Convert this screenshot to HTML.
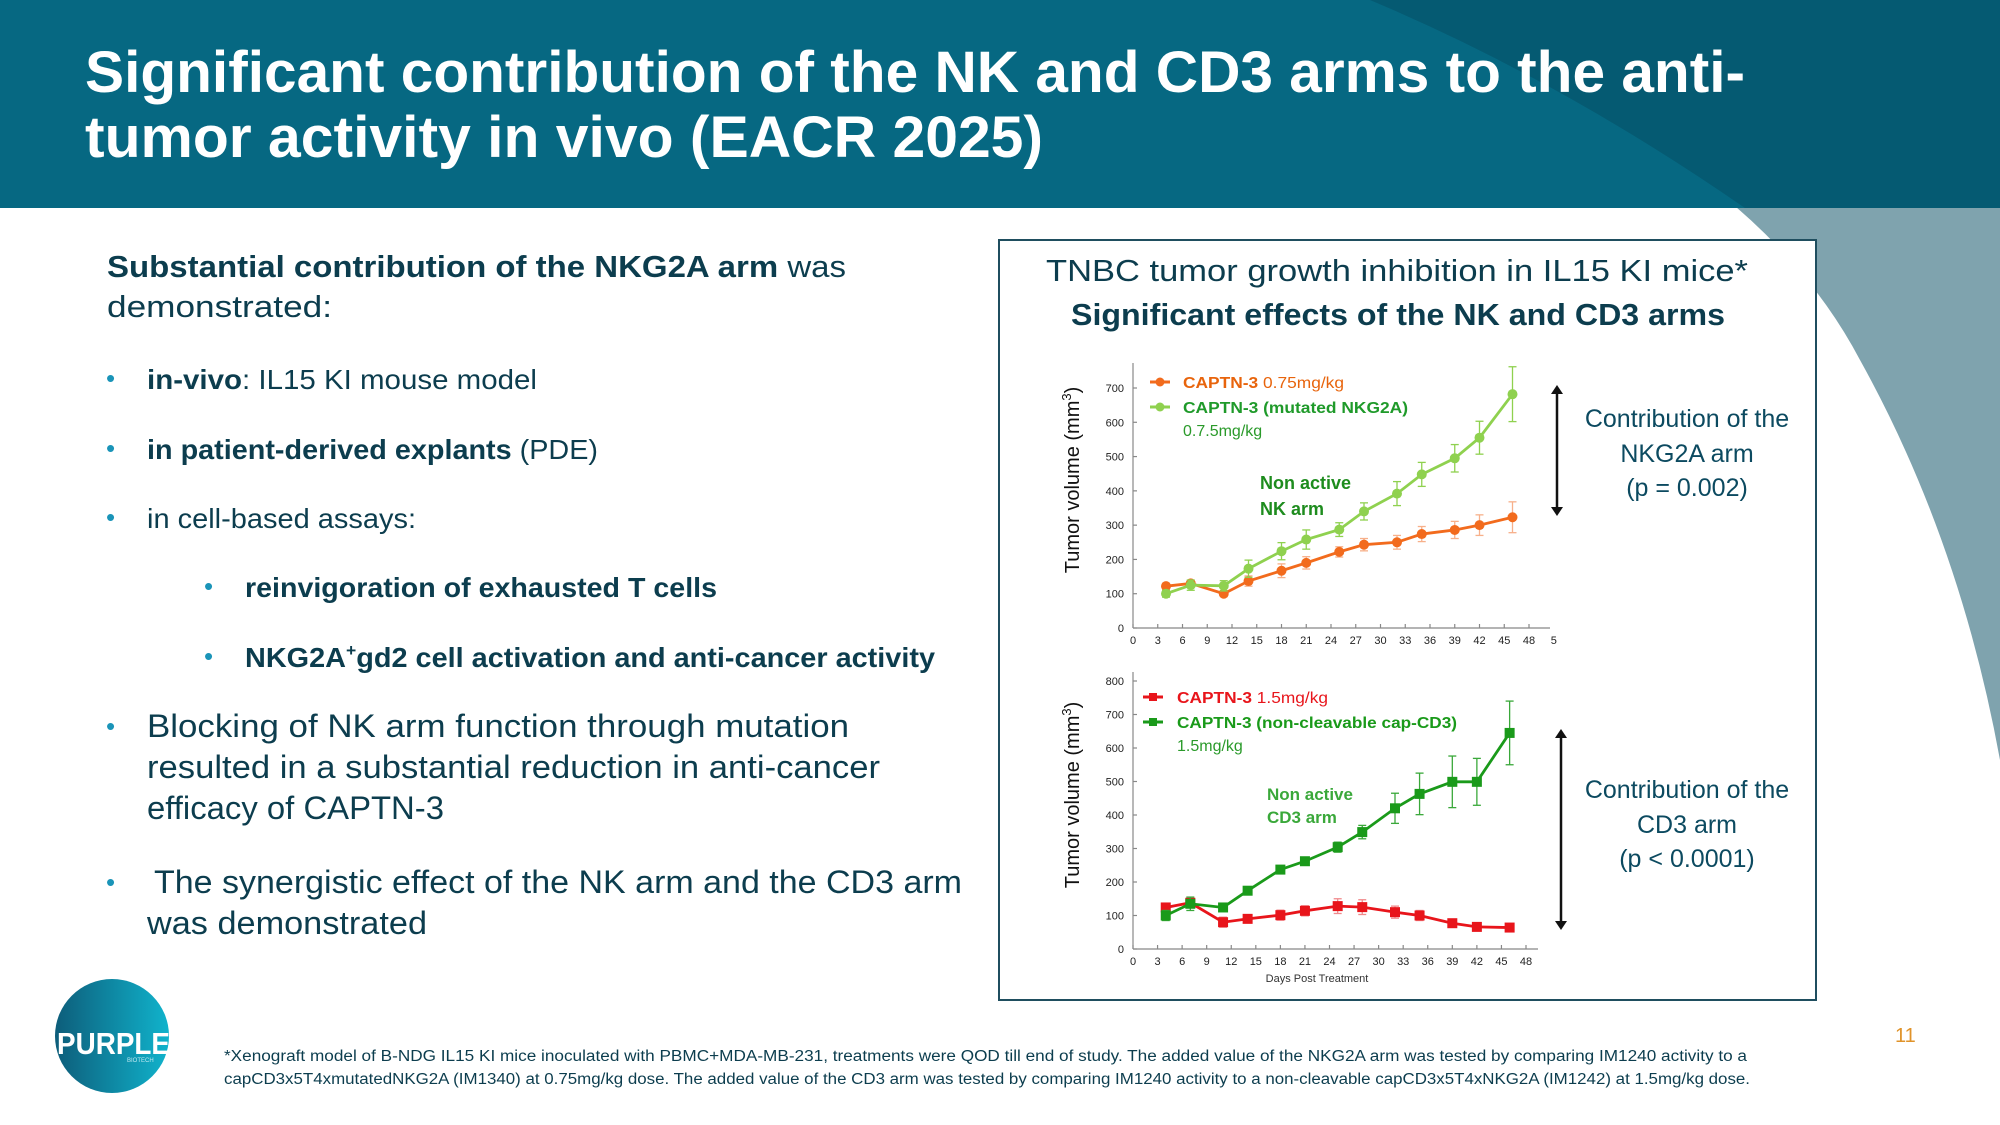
<!DOCTYPE html>
<html><head><meta charset="utf-8"><style>
html,body{margin:0;padding:0;background:#fff}
svg{display:block}
text{font-family:"Liberation Sans",sans-serif}
</style></head><body>
<svg id="slide" width="2000" height="1125" viewBox="0 0 2000 1125" xmlns="http://www.w3.org/2000/svg">
<defs>
<linearGradient id="logoG" x1="0" y1="0" x2="1" y2="0"><stop offset="0" stop-color="#0d5d7a"/><stop offset="1" stop-color="#10b3cc"/></linearGradient>
</defs>
<rect x="0" y="0" width="2000" height="1125" fill="#fff"/>
<path d="M1480 58 Q1760 170 1860 360 Q1960 540 2000 760 L2000 0 Z" fill="#7fa3ae"/>
<rect x="0" y="0" width="2000" height="208" fill="#066882"/>
<path d="M1370 0 Q1560 80 1745 208 L2000 208 L2000 0 Z" fill="#055a72"/>
<text x="85" y="92" font-size="58" font-weight="bold" fill="#fff" textLength="1660" lengthAdjust="spacingAndGlyphs">Significant contribution of the NK and CD3 arms to the anti-</text>
<text x="85" y="157" font-size="58" font-weight="bold" fill="#fff" textLength="958" lengthAdjust="spacingAndGlyphs">tumor activity in vivo (EACR 2025)</text>

<g fill="#0c3d4e">
<text x="107" y="277" font-size="31" textLength="739" lengthAdjust="spacingAndGlyphs"><tspan font-weight="bold">Substantial contribution of  the NKG2A arm</tspan> was</text>
<text x="107" y="317" font-size="31" textLength="225" lengthAdjust="spacingAndGlyphs">demonstrated:</text>
<g fill="#1a94b8" font-size="26"><text x="106" y="387">•</text><text x="106" y="457">•</text><text x="106" y="526">•</text><text x="204" y="595">•</text><text x="204" y="665">•</text><text x="106" y="735">•</text><text x="106" y="891">•</text></g>
<text x="147" y="389" font-size="28" textLength="390" lengthAdjust="spacingAndGlyphs"><tspan font-weight="bold">in-vivo</tspan>: IL15 KI mouse model</text>
<text x="147" y="459" font-size="28" textLength="451" lengthAdjust="spacingAndGlyphs"><tspan font-weight="bold">in patient-derived explants</tspan> (PDE)</text>
<text x="147" y="528" font-size="28" textLength="269" lengthAdjust="spacingAndGlyphs">in cell-based assays:</text>
<text x="245" y="597" font-size="28" font-weight="bold" textLength="472" lengthAdjust="spacingAndGlyphs">reinvigoration of exhausted T cells</text>
<text x="245" y="667" font-size="28" font-weight="bold" textLength="690" lengthAdjust="spacingAndGlyphs">NKG2A<tspan font-size="17" dy="-11">+</tspan><tspan dy="11">gd2 cell activation and anti-cancer activity</tspan></text>
<text x="147" y="737" font-size="32" textLength="702" lengthAdjust="spacingAndGlyphs">Blocking of NK arm function through mutation</text>
<text x="147" y="778" font-size="32" textLength="733" lengthAdjust="spacingAndGlyphs">resulted in a substantial reduction in anti-cancer</text>
<text x="147" y="819" font-size="32" textLength="297" lengthAdjust="spacingAndGlyphs">efficacy of CAPTN-3</text>
<text x="154" y="893" font-size="32" textLength="808" lengthAdjust="spacingAndGlyphs">The synergistic effect of the NK arm and the CD3 arm</text>
<text x="147" y="934" font-size="32" textLength="280" lengthAdjust="spacingAndGlyphs">was demonstrated</text>
</g>

<rect x="999" y="240" width="817" height="760" fill="#fff" stroke="#1f4e5f" stroke-width="2"/>
<text x="1046" y="281" font-size="31" fill="#0c3d4e" textLength="702" lengthAdjust="spacingAndGlyphs">TNBC tumor growth inhibition in IL15 KI mice*</text>
<text x="1071" y="325" font-size="31" font-weight="bold" fill="#0c3d4e" textLength="654" lengthAdjust="spacingAndGlyphs">Significant effects of the NK and CD3 arms</text>

<g fill="#0c4a60" font-size="25" text-anchor="middle">
<text x="1687" y="427">Contribution of the</text><text x="1687" y="462">NKG2A arm</text><text x="1687" y="496">(p = 0.002)</text></g>
<g fill="#0c4a60" font-size="25" text-anchor="middle">
<text x="1687" y="798">Contribution of the</text><text x="1687" y="833">CD3 arm</text><text x="1687" y="867">(p &lt; 0.0001)</text></g>
<g stroke="#111" stroke-width="2.5" fill="#111">
<line x1="1557" y1="392" x2="1557" y2="509"/><path d="M1551 394 L1557 385 L1563 394Z" stroke="none"/><path d="M1551 507 L1557 516 L1563 507Z" stroke="none"/></g>
<g stroke="#111" stroke-width="2.5" fill="#111">
<line x1="1561" y1="736" x2="1561" y2="923"/><path d="M1555 738 L1561 729 L1567 738Z" stroke="none"/><path d="M1555 921 L1561 930 L1567 921Z" stroke="none"/></g>

<g id="chart1"></g>
<g id="chart2"></g>

<g>
<circle cx="112" cy="1036" r="57" fill="url(#logoG)"/>
<text x="57" y="1054" font-size="31" font-weight="bold" fill="#fff" textLength="113" lengthAdjust="spacingAndGlyphs">PURPLE</text>
<text x="127" y="1062" font-size="6" fill="#bfe9f2">BIOTECH</text>
</g>
<text x="1895" y="1042" font-size="20" fill="#e0932a">11</text>
<g fill="#0c3d4e" font-size="15.5">
<text x="224" y="1061" textLength="1523" lengthAdjust="spacingAndGlyphs">*Xenograft model of B-NDG IL15 KI mice inoculated with PBMC+MDA-MB-231,  treatments were QOD till end of study. The added value of the NKG2A arm was tested by comparing IM1240 activity to a</text>
<text x="224" y="1084" textLength="1526" lengthAdjust="spacingAndGlyphs">capCD3x5T4xmutatedNKG2A (IM1340) at 0.75mg/kg dose. The added value of the CD3 arm was tested by comparing IM1240 activity to a non-cleavable capCD3x5T4xNKG2A (IM1242) at 1.5mg/kg dose.</text>
</g>
</svg>
<script>
// ---- data ----
const days = [4, 7, 11, 14, 18, 21, 25, 28, 32, 35, 39, 42, 46];
const c1Orange = [122, 130, 100, 137, 167, 190, 222, 243, 250, 274, 286, 300, 323];
const c1OrangeErr = [8, 8, 8, 15, 20, 18, 15, 18, 20, 22, 25, 30, 45];
const c1Green = [100, 125, 123, 173, 224, 258, 287, 340, 392, 448, 495, 555, 682];
const c1GreenErr = [10, 15, 15, 25, 25, 28, 20, 25, 35, 35, 40, 48, 80];
const c2Red = [124, 138, 80, 90, 101, 114, 128, 125, 110, 100, 77, 66, 64];
const c2RedErr = [8, 15, 15, 12, 15, 15, 22, 22, 18, 15, 8, 8, 8];
const c2Green = [100, 135, 124, 174, 237, 262, 304, 349, 420, 463, 499, 499, 645];
const c2GreenErr = [15, 20, 10, 10, 12, 12, 15, 20, 45, 62, 77, 70, 95];
const xTicks = [0, 3, 6, 9, 12, 15, 18, 21, 24, 27, 30, 33, 36, 39, 42, 45, 48];
const yTicks1 = [0, 100, 200, 300, 400, 500, 600, 700];
const yTicks2 = [0, 100, 200, 300, 400, 500, 600, 700, 800];

const NS = "http://www.w3.org/2000/svg";
function mk(parent, tag, attrs, txt) {
  const e = document.createElementNS(NS, tag);
  for (const k in attrs) e.setAttribute(k, attrs[k]);
  if (txt !== undefined) e.textContent = txt;
  parent.appendChild(e);
  return e;
}
function drawChart(g, o) {
  const X = d => o.x0 + (d / 48) * (o.x48 - o.x0);
  const Y = v => o.y0 - (v / o.ymax) * (o.y0 - o.ytop);
  const ax = mk(g, "g", {stroke: "#888", "stroke-width": 1.2, fill: "none"});
  
  
  mk(ax, "line", {x1: o.x0, y1: o.y0, x2: o.xEnd, y2: o.y0});
  mk(ax, "line", {x1: o.x0, y1: o.y0, x2: o.x0, y2: o.axTop});
  const tl = mk(g, "g", {fill: "#222", "font-size": 11});
  
  
  xTicks.forEach(d => {
    mk(ax, "line", {x1: X(d), y1: o.y0, x2: X(d), y2: o.y0 - 4});
    mk(tl, "text", {x: X(d), y: o.y0 + 16, "text-anchor": "middle"}, d);
  });
  if (o.extra) mk(tl, "text", {x: X(51) - 3, y: o.y0 + 16}, "5");
  o.yTicks.forEach(v => {
    mk(ax, "line", {x1: o.x0, y1: Y(v), x2: o.x0 + 4, y2: Y(v)});
    mk(tl, "text", {x: o.x0 - 9, y: Y(v) + 4, "text-anchor": "end"}, v);
  });
  const yt = mk(g, "text", {x: 0, y: 0, "font-size": 20, fill: "#111", "text-anchor": "middle",
    transform: `translate(${o.ytX},${o.ytY}) rotate(-90)`});
  
  
  yt.innerHTML = 'Tumor volume (mm<tspan font-size="13" dy="-8">3</tspan><tspan dy="8">)</tspan>';
  o.series.forEach(s => {
    const sg = mk(g, "g", {});
    
    
    s.vals.forEach((v, i) => {
      const x = X(days[i]);
      mk(sg, "line", {x1: x, y1: Y(v - s.err[i]), x2: x, y2: Y(v + s.err[i]), stroke: s.errColor, "stroke-width": 1.3});
      mk(sg, "line", {x1: x - 4, y1: Y(v - s.err[i]), x2: x + 4, y2: Y(v - s.err[i]), stroke: s.errColor, "stroke-width": 1.3});
      mk(sg, "line", {x1: x - 4, y1: Y(v + s.err[i]), x2: x + 4, y2: Y(v + s.err[i]), stroke: s.errColor, "stroke-width": 1.3});
    });
    const pts = s.vals.map((v, i) => X(days[i]) + "," + Y(v)).join(" ");
    mk(sg, "polyline", {points: pts, fill: "none", stroke: s.color, "stroke-width": 2.8});
    s.vals.forEach((v, i) => {
      const x = X(days[i]), y = Y(v);
      if (s.square) mk(sg, "rect", {x: x - 5, y: y - 5, width: 10, height: 10, fill: s.color});
      else mk(sg, "circle", {cx: x, cy: y, r: 5, fill: s.color});
    });
  });
}
const g1 = document.getElementById("chart1");
drawChart(g1, {x0: 1133, x48: 1529, xEnd: 1550, y0: 628, ytop: 388, ymax: 700, axTop: 363, yTicks: yTicks1,
  extra: true, ytX: 1079, ytY: 480,
  series: [
    {name: "series-captn3-0.75", vals: c1Orange, err: c1OrangeErr, color: "#f26b1d", errColor: "#f7b08a"},
    {name: "series-captn3-mutated-nkg2a", vals: c1Green, err: c1GreenErr, color: "#8fd14f", errColor: "#8fd14f"}
  ]});
const g2 = document.getElementById("chart2");
drawChart(g2, {x0: 1133, x48: 1526, xEnd: 1538, y0: 949, ytop: 681, ymax: 800, axTop: 672, yTicks: yTicks2,
  extra: false, ytX: 1079, ytY: 795,
  series: [
    {name: "series-captn3-1.5", vals: c2Red, err: c2RedErr, color: "#e8151b", errColor: "#f08a8c", square: true},
    {name: "series-captn3-noncleavable-cd3", vals: c2Green, err: c2GreenErr, color: "#1a9a1a", errColor: "#3aa83a", square: true}
  ]});
</script>
<svg style="position:absolute;left:0;top:0" width="2000" height="1125" viewBox="0 0 2000 1125" xmlns="http://www.w3.org/2000/svg" pointer-events="none">
<g>
<line x1="1150" y1="382" x2="1170" y2="382" stroke="#f26b1d" stroke-width="3"/><circle cx="1160" cy="382" r="4.5" fill="#f26b1d"/>
<text x="1183" y="388" font-size="16" fill="#e8640c" textLength="161" lengthAdjust="spacingAndGlyphs"><tspan font-weight="bold">CAPTN-3</tspan>  0.75mg/kg</text>
<line x1="1150" y1="407" x2="1170" y2="407" stroke="#8fd14f" stroke-width="3"/><circle cx="1160" cy="407" r="4.5" fill="#8fd14f"/>
<text x="1183" y="413" font-size="16" font-weight="bold" fill="#1f9a2a" textLength="225" lengthAdjust="spacingAndGlyphs">CAPTN-3 (mutated NKG2A)</text>
<text x="1183" y="436" font-size="16" fill="#2a9a2a">0.7.5mg/kg</text>
<text x="1260" y="489" font-size="18" font-weight="bold" fill="#1e8c1e">Non active</text>
<text x="1260" y="515" font-size="18" font-weight="bold" fill="#1e8c1e">NK arm</text>
</g>
<g>
<line x1="1143" y1="697" x2="1163" y2="697" stroke="#e8151b" stroke-width="3"/><rect x="1149" y="693" width="8" height="8" fill="#e8151b"/>
<text x="1177" y="703" font-size="16" fill="#e8151b" textLength="151" lengthAdjust="spacingAndGlyphs"><tspan font-weight="bold">CAPTN-3</tspan>  1.5mg/kg</text>
<line x1="1143" y1="722" x2="1163" y2="722" stroke="#1a9a1a" stroke-width="3"/><rect x="1149" y="718" width="8" height="8" fill="#1a9a1a"/>
<text x="1177" y="728" font-size="16" font-weight="bold" fill="#1a9a1a" textLength="280" lengthAdjust="spacingAndGlyphs">CAPTN-3 (non-cleavable cap-CD3)</text>
<text x="1177" y="751" font-size="16" fill="#2a9a2a">1.5mg/kg</text>
<text x="1267" y="800" font-size="17" font-weight="bold" fill="#3aa83a">Non active</text>
<text x="1267" y="823" font-size="17" font-weight="bold" fill="#3aa83a">CD3 arm</text>
<text x="1317" y="982" font-size="11" fill="#333" text-anchor="middle">Days Post Treatment</text>
</g>
</svg>
</body></html>
